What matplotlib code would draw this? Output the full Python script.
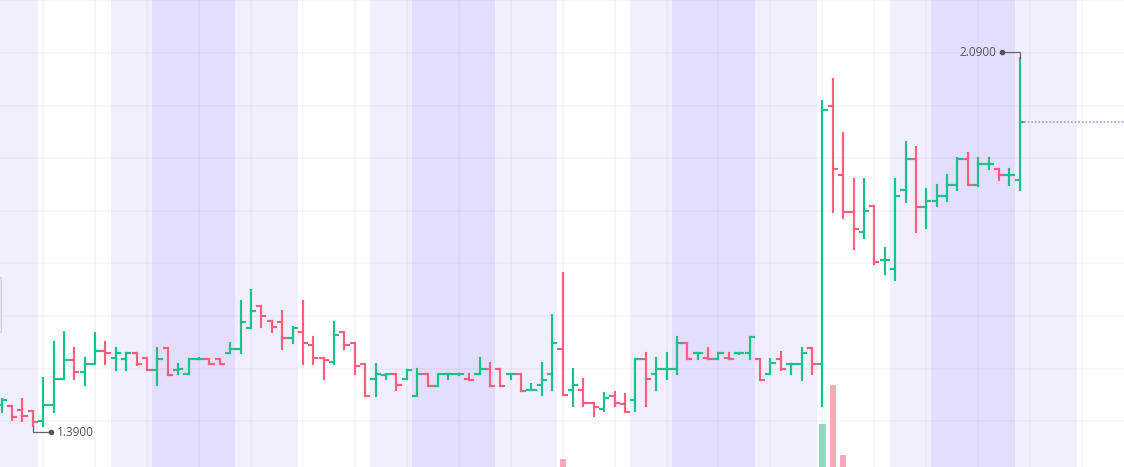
import numpy as np
import matplotlib
matplotlib.use("Agg")
import matplotlib.pyplot as plt
from matplotlib.collections import LineCollection
from matplotlib.patches import FancyBboxPatch

# ---------------- data ----------------
opens = [1.430, 1.429, 1.421, 1.420, 1.400, 1.430, 1.480, 1.517, 1.494, 1.508,
         1.534, 1.520, 1.519, 1.530, 1.521, 1.498, 1.539, 1.498, 1.489, 1.519,
         1.519, 1.519, 1.530, 1.538, 1.578, 1.619, 1.590, 1.588, 1.559, 1.569,
         1.545, 1.521, 1.513, 1.569, 1.549, 1.508, 1.480, 1.488, 1.489, 1.480,
         1.448, 1.489, 1.467, 1.489, 1.489, 1.480, 1.489, 1.499, 1.499, 1.489,
         1.489, 1.460, 1.468, 1.489, 1.538, 1.459, 1.459, 1.434, 1.424, 1.448,
         1.432, 1.440, 1.519, 1.489, 1.499, 1.499, 1.549, 1.529, 1.520, 1.519,
         1.520, 1.529, 1.529, 1.519, 1.489, 1.519, 1.508, 1.508, 1.539, 1.508,
         1.999, 1.868, 1.797, 1.759, 1.810, 1.706, 1.689, 1.839, 1.898, 1.808,
         1.818, 1.829, 1.849, 1.898, 1.849, 1.889, 1.879, 1.868, 1.858]
highs = [1.443, 1.429, 1.442, 1.420, 1.482, 1.551, 1.570, 1.539, 1.520, 1.567,
         1.550, 1.539, 1.530, 1.530, 1.521, 1.539, 1.539, 1.508, 1.519, 1.520,
         1.519, 1.519, 1.549, 1.629, 1.649, 1.619, 1.590, 1.610, 1.579, 1.629,
         1.560, 1.521, 1.589, 1.570, 1.549, 1.508, 1.508, 1.489, 1.489, 1.498,
         1.500, 1.489, 1.489, 1.489, 1.490, 1.489, 1.521, 1.510, 1.499, 1.489,
         1.489, 1.470, 1.510, 1.602, 1.681, 1.500, 1.481, 1.434, 1.454, 1.456,
         1.451, 1.519, 1.530, 1.520, 1.530, 1.560, 1.549, 1.529, 1.539, 1.529,
         1.529, 1.530, 1.560, 1.519, 1.519, 1.531, 1.508, 1.539, 1.539, 2.009,
         2.050, 1.948, 1.860, 1.860, 1.810, 1.730, 1.860, 1.930, 1.921, 1.841,
         1.850, 1.869, 1.900, 1.909, 1.900, 1.900, 1.879, 1.879, 2.090]
lows = [1.418, 1.402, 1.400, 1.390, 1.391, 1.418, 1.480, 1.480, 1.468, 1.508,
        1.508, 1.498, 1.498, 1.507, 1.498, 1.468, 1.487, 1.489, 1.489, 1.518,
        1.508, 1.508, 1.530, 1.530, 1.578, 1.579, 1.569, 1.538, 1.548, 1.508,
        1.508, 1.480, 1.508, 1.538, 1.489, 1.448, 1.448, 1.480, 1.459, 1.480,
        1.448, 1.467, 1.467, 1.480, 1.487, 1.479, 1.489, 1.467, 1.467, 1.480,
        1.458, 1.459, 1.449, 1.459, 1.449, 1.429, 1.429, 1.410, 1.419, 1.429,
        1.418, 1.419, 1.429, 1.459, 1.480, 1.489, 1.519, 1.519, 1.519, 1.519,
        1.519, 1.528, 1.519, 1.478, 1.489, 1.497, 1.489, 1.479, 1.489, 1.429,
        1.798, 1.787, 1.728, 1.748, 1.699, 1.680, 1.668, 1.817, 1.759, 1.768,
        1.809, 1.818, 1.839, 1.849, 1.847, 1.879, 1.858, 1.849, 1.839]
closes = [1.441, 1.408, 1.410, 1.399, 1.430, 1.480, 1.517, 1.494, 1.508, 1.534,
          1.530, 1.530, 1.530, 1.508, 1.498, 1.519, 1.487, 1.499, 1.519, 1.519,
          1.508, 1.508, 1.538, 1.588, 1.609, 1.600, 1.579, 1.559, 1.578, 1.549,
          1.521, 1.516, 1.564, 1.545, 1.505, 1.448, 1.489, 1.489, 1.468, 1.498,
          1.489, 1.467, 1.489, 1.489, 1.489, 1.479, 1.499, 1.467, 1.467, 1.489,
          1.458, 1.460, 1.479, 1.548, 1.449, 1.468, 1.434, 1.427, 1.445, 1.435,
          1.418, 1.519, 1.481, 1.500, 1.499, 1.549, 1.519, 1.529, 1.519, 1.529,
          1.519, 1.529, 1.560, 1.478, 1.510, 1.499, 1.508, 1.529, 1.508, 1.992,
          1.879, 1.797, 1.765, 1.799, 1.702, 1.707, 1.829, 1.898, 1.808, 1.818,
          1.829, 1.849, 1.898, 1.849, 1.889, 1.889, 1.868, 1.868, 1.968]
volumes = [0.0] * 99
volumes[54] = 0.8
volumes[79] = 4.3
volumes[80] = 8.2
volumes[81] = 1.2

# trading sessions (first bar, last bar) - overlapping sessions shade darker
session_a = [(11, 22), (36, 47), (61, 72), (86, 97)]
session_b = [(-10, 3), (15, 28), (40, 53), (65, 78), (90, 103)]

# ---------------- style ----------------
UP = "#17C28B"
DOWN = "#FF5E7C"
UP_VOL = "#84DEC1"
DOWN_VOL = "#FFA9B6"
SESSION = "#7A5AF8"

W, H = 1124, 467
fig = plt.figure(figsize=(W / 100, H / 100), dpi=100)
ax = fig.add_axes([0, 0, 1, 1])

n = len(opens)
x = np.arange(n)
o = np.array(opens); h = np.array(highs); l = np.array(lows); c = np.array(closes)
up = c >= o
cols = [UP if u else DOWN for u in up]

ax.set_xlim(-0.154, 108.03)
ax.set_ylim(1.3129, 2.2008)

for s, e in session_a + session_b:
    ax.axvspan(s - 0.5, e + 0.5, color=SESSION, alpha=0.1, lw=0, zorder=1)

ax.set_xticks(np.arange(4, 109, 5))
ax.set_yticks(np.arange(1.4, 2.25, 0.1))
ax.set_axisbelow('line')
ax.grid(True, color='black', alpha=0.032, lw=1.3)
ax.tick_params(length=0, labelbottom=False, labelleft=False)
for sp in ax.spines.values():
    sp.set_visible(False)

tw = 0.4
segs, seg_cols = [], []
for i in range(n):
    segs.append([(x[i], l[i]), (x[i], h[i])])
    segs.append([(x[i] - tw, o[i]), (x[i], o[i])])
    segs.append([(x[i], c[i]), (x[i] + tw, c[i])])
    seg_cols += [cols[i]] * 3
lc = LineCollection(segs, colors=seg_cols, linewidths=1.55, capstyle='projecting', zorder=3)
ax.add_collection(lc)

# last price dotted line
ax.plot([n - 1 + 0.45, 108.03], [c[-1], c[-1]], ls=(0, (1, 1)), lw=1.3,
        color="#98B2F7", zorder=3)

# high / low annotations
inv = ax.transData.inverted()
def to_data(px, py):
    return inv.transform((px, py))

hi_i = int(np.argmax(h)); lo_i = int(np.argmin(l))
px0, py0 = ax.transData.transform((hi_i, h[hi_i]))
p1 = to_data(px0, py0 + 6)
p2 = to_data(px0 - 18, py0 + 6)
pt = to_data(px0 - 23, py0 + 6)
ax.plot([hi_i, p1[0], p2[0]], [h[hi_i], p1[1], p2[1]], color="#666666", lw=0.9, zorder=4)
ax.plot([p2[0]], [p2[1]], 'o', color="#555555", ms=3, zorder=4)
ax.text(pt[0], pt[1], f"{h[hi_i]:.4f}", ha='right', va='center', fontsize=8.5,
        family=['Open Sans', 'DejaVu Sans'], color="#555555", zorder=4)

qx0, qy0 = ax.transData.transform((lo_i, l[lo_i]))
q1 = to_data(qx0, qy0 - 6)
q2 = to_data(qx0 + 18, qy0 - 6)
qt = to_data(qx0 + 24, qy0 - 6)
ax.plot([lo_i, q1[0], q2[0]], [l[lo_i], q1[1], q2[1]], color="#666666", lw=0.9, zorder=4)
ax.plot([q2[0]], [q2[1]], 'o', color="#555555", ms=3, zorder=4)
ax.text(qt[0], qt[1], f"{l[lo_i]:.4f}", ha='left', va='center', fontsize=8.5,
        family=['Open Sans', 'DejaVu Sans'], color="#555555", zorder=4)

# partially visible tooltip box at left edge
ax.add_patch(FancyBboxPatch((-0.05, 0.287), 0.0512, 0.12,
                            boxstyle='round,pad=0,rounding_size=0.004',
                            transform=ax.transAxes, ec='#cfcfd4', fc='none', lw=1, zorder=5))

# volume
ax2 = ax.twinx()
ax2.set_ylim(0, 46.7)
vcols = [UP_VOL if u else DOWN_VOL for u in up]
ax2.bar(x, volumes, width=0.6, color=vcols, lw=0)
ax2.set_xlim(-0.154, 108.03)
ax2.tick_params(length=0, labelright=False, labelleft=False)
for sp in ax2.spines.values():
    sp.set_visible(False)

fig.savefig("out.png", dpi=100)
